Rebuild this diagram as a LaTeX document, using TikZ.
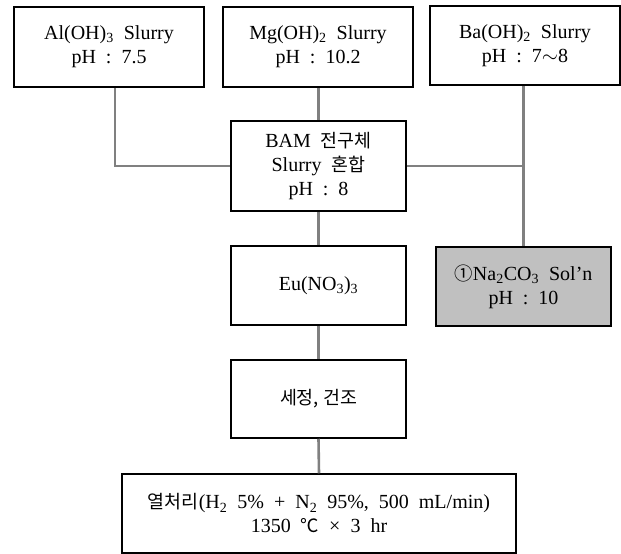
\documentclass[tikz,border=0pt]{standalone}
\usepackage{fontspec}
\setmainfont[WordSpace={2,0,0}]{Liberation Serif}
\newfontfamily\kr[Scale=0.92]{Noto Sans CJK KR}
\usepackage{xcolor}
\definecolor{linkgray}{RGB}{128,128,128}
\definecolor{solgray}{RGB}{192,192,192}
\usepackage{tikz}

\begin{document}
\begin{tikzpicture}[x=1pt, y=-1pt,
  stagebox/.style={rectangle, draw=black, line width=1.5pt,
               minimum width=#1, minimum height=79pt, inner sep=0pt,
               font=\fontsize{20}{24}\selectfont, align=center, fill=white},
  stagebox/.default=175pt,
  link/.style={draw=linkgray, line width=2.6pt}
]
\useasboundingbox (0,0) rectangle (621,554);

% Raw slurries
\node[stagebox=190pt, minimum height=80pt] (al) at (109,47) {Al(OH)\textsubscript{3} Slurry\\pH : 7.5};
\node[stagebox=190pt, minimum height=80pt] (mg) at (318,47) {Mg(OH)\textsubscript{2} Slurry\\pH : 10.2};
\node[stagebox=190pt] (ba) at (525,45.5) {Ba(OH)\textsubscript{2} Slurry\\pH : 7$\sim$8};

% Mixing
\node[stagebox, minimum height=90pt] (bam) at (318.5,166) {BAM {\kr 전구체}\\Slurry {\kr 혼합}\\pH : 8};

% Precipitant
\node[stagebox, fill=solgray] (na) at (523.5,286.5) {{\kr ①}Na\textsubscript{2}CO\textsubscript{3} Sol'n\\pH : 10};

% Activator, washing, firing
\node[stagebox] (eu) at (318.5,285.5) {Eu(NO\textsubscript{3})\textsubscript{3}};
\node[stagebox, minimum height=78pt] (wash) at (318.5,399) {{\kr 세정, 건조}};
\node[stagebox=394pt] (heat) at (319,513.5) {{\kr 열처리}(H\textsubscript{2} 5\% + N\textsubscript{2} 95\%, 500 mL/min)\\1350 {\kr ℃} × 3 hr};

% Links
\draw[link] ([xshift=6pt]al.south) |- (bam.west);
\draw[link] (mg.south -| bam.north) -- (bam.north);
\draw[link] (ba.south -| na.north) -- (na.north);
\draw[link] (bam.east) -- (bam.east -| na.north);
\draw[link] (bam.south) -- (eu.north);
\draw[link] (eu.south) -- (wash.north);
\draw[link] (wash.south) -- (heat.north);
\end{tikzpicture}
\end{document}
